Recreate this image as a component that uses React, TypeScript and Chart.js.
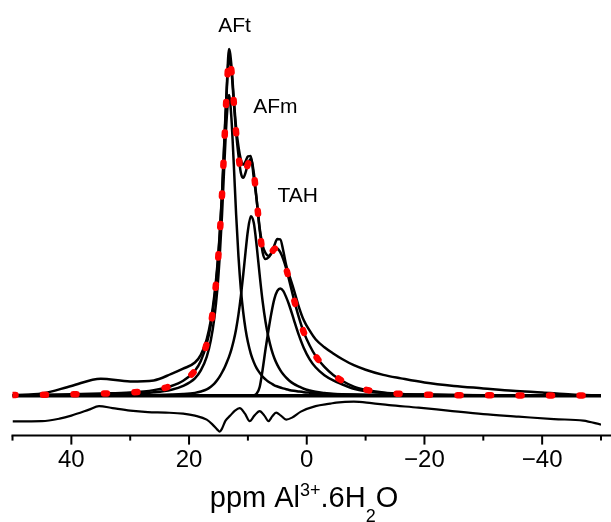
import React, { useEffect, useRef } from "react";
import { Chart, registerables } from "chart.js";

Chart.register(...registerables);

const FONT = '"Liberation Sans", Arial, Helvetica, sans-serif';

// chemical shift grid (ppm) for spectrum, fit and component peaks
const ppmGrid = [50, 45, 40, 35, 30, 26, 23, 21, 19, 18, 17, 16.3, 15.7, 15.2, 14.8, 14.4, 14, 13.6, 13.2, 12.8, 12.4, 12, 11.6, 11.2, 10.8, 10.4, 10, 9.5, 9, 8.5, 8, 7.5, 7, 6.5, 6, 5.5, 5, 4.5, 4, 3.5, 3, 2.2, 1.4, 0.5, -0.5, -1.5, -3, -4.5, -6, -8, -10, -13, -16, -20, -25, -30, -35, -40, -45, -50];

const experimental = [0.1, 0.6, 2.8, 4.9, 4.1, 4.4, 6.3, 7.8, 9.6, 11.8, 16.3, 21.8, 29, 37.5, 46.5, 58.5, 74, 89, 100.3, 95.5, 86, 77.5, 72, 68.3, 66.8, 67.8, 69.2, 69.3, 63, 56.5, 48.5, 43.5, 41.2, 40.4, 41.2, 43.5, 45.3, 45.2, 42, 37.8, 35, 30.7, 26, 21.8, 18.8, 16.3, 14, 12.2, 10.6, 8.8, 7.5, 6.0, 5.0, 3.8, 2.8, 2.1, 1.4, 0.9, 0.35, 0.05];

const fitTotal = [0.15, 0.25, 0.4, 0.6, 0.9, 1.6, 2.8, 4.3, 7.2, 10.0, 15.0, 20.5, 28, 36.5, 46, 58, 73, 88, 98, 94, 85, 76, 69.5, 64.5, 63, 64.5, 67, 68.5, 64.5, 56.5, 48, 41.5, 39.5, 40, 41.2, 42.5, 42.6, 41.5, 39.5, 36.8, 33.5, 28, 23, 18.3, 14.5, 11.5, 8.3, 6.0, 4.3, 2.6, 1.7, 0.9, 0.5, 0.3, 0.15, 0.1, 0.05, 0.03, 0.02, 0];

const peakAFt = [0.05, 0.08, 0.14, 0.25, 0.5, 0.95, 1.7, 2.8, 5.0, 7.3, 11.2, 16.0, 22.5, 30.6, 40.0, 52.2, 67.0, 80.3, 87, 80.3, 67.0, 52.4, 40.2, 30.9, 24.2, 19.2, 15.5, 12.1, 9.7, 7.9, 6.6, 5.5, 4.7, 4.0, 3.5, 3.0, 2.65, 2.35, 2.1, 1.85, 1.65, 1.4, 1.2, 1.0, 0.85, 0.72, 0.57, 0.46, 0.38, 0.3, 0.24, 0.18, 0.13, 0.09, 0.06, 0.04, 0.03, 0.02, 0.01, 0];

const peakAFm = [0.02, 0.03, 0.05, 0.08, 0.12, 0.2, 0.3, 0.45, 0.8, 1.2, 1.8, 2.6, 3.5, 4.5, 5.5, 6.7, 8.0, 9.6, 11.3, 13.4, 16.0, 19.3, 23.5, 28.7, 34.9, 41.6, 47.7, 51.9, 50.0, 43.2, 34.9, 27.3, 21.3, 16.8, 13.4, 10.8, 8.9, 7.4, 6.2, 5.2, 4.4, 3.4, 2.7, 2.0, 1.5, 1.1, 0.75, 0.5, 0.35, 0.25, 0.18, 0.12, 0.08, 0.05, 0.03, 0.02, 0.01, 0.01, 0, 0];

const peakTAH = [0, 0, 0, 0, 0, 0, 0, 0, 0, 0, 0, 0, 0, 0, 0, 0, 0, 0, 0, 0, 0, 0, 0, 0, 0, 0, 0, 0, 0.1, 0.6, 2.5, 7.5, 13.5, 19, 24, 28, 30.3, 31, 30.3, 28.5, 26.3, 22, 17.8, 13.8, 10.5, 8.2, 5.9, 4.4, 3.3, 2.0, 1.3, 0.8, 0.5, 0.3, 0.18, 0.1, 0.06, 0.04, 0.02, 0];

// residual (experimental - fit), plotted with its offset below the baseline
const residualPpm = [50, 45, 42, 40, 37, 35.3, 33, 30, 27, 24, 21, 19, 17, 16, 15.2, 14.8, 14.4, 13.8, 13, 12.2, 11.4, 10.5, 9.7, 8.9, 8, 7.2, 6.5, 5.9, 5.2, 4.4, 3.5, 2.5, 1, -1.5, -4, -5, -8, -11, -14, -19, -24, -30, -36, -42, -47, -50];
const residualValues = [-7.43, -7.37, -6.65, -5.78, -4.05, -3.03, -3.61, -4.34, -4.77, -4.91, -5.2, -5.78, -6.94, -8.38, -9.83, -10.4, -9.54, -7.23, -5.78, -4.34, -3.61, -5.2, -7.37, -5.78, -4.48, -5.78, -7.37, -6.07, -4.91, -5.78, -6.94, -6.36, -4.62, -3.03, -2.31, -2.02, -1.73, -2.17, -2.75, -3.47, -4.34, -5.35, -6.07, -6.79, -7.23, -8.38];

const baselinePpm = [50, -50];
const baselineValues = [0, 0];

const majorTickLabels = [40, 20, 0, -20, -40];

const peakLabels = ["AFt", "AFm", "TAH"];
const peakLabelPpm = [12.28, 5.33, 1.54];
const peakLabelIntensity = [105.1, 81.9, 55.9];

const titleParts = [
  { text: "ppm Al", kind: "normal" },
  { text: "3+", kind: "sup" },
  { text: ".6H", kind: "normal" },
  { text: "2", kind: "sub" },
  { text: "O", kind: "normal" },
];

function pts(xs: number[], ys: number[]) {
  return xs.map((x, i) => ({ x, y: ys[i] }));
}

const fmt = (v: number) => (v < 0 ? "\u2212" + Math.abs(v) : String(v));

const decorPlugin = {
  id: "decor",
  afterDraw(chart: any) {
    const { ctx, chartArea, scales } = chart;
    const xs = scales.x;
    const ys = scales.y;
    ctx.save();
    ctx.strokeStyle = "#000";
    ctx.lineWidth = 2;
    const yAxis = chartArea.bottom;
    ctx.beginPath();
    ctx.moveTo(chartArea.left - 1, yAxis);
    ctx.lineTo(chart.width, yAxis);
    ctx.stroke();
    xs.ticks.forEach((t: any) => {
      const px = xs.getPixelForValue(t.value);
      const major = majorTickLabels.includes(t.value);
      ctx.beginPath();
      ctx.moveTo(px, yAxis);
      ctx.lineTo(px, yAxis + (major ? 9 : 5));
      ctx.stroke();
    });

    ctx.fillStyle = "#000";
    ctx.font = `21px ${FONT}`;
    ctx.textAlign = "center";
    ctx.textBaseline = "alphabetic";
    peakLabels.forEach((s, i) => {
      ctx.fillText(s, xs.getPixelForValue(peakLabelPpm[i]), ys.getPixelForValue(peakLabelIntensity[i]));
    });

    // axis title with super/subscripts
    const mainSize = 29;
    const scriptSize = 18;
    const parts = titleParts.map((p) => {
      const size = p.kind === "normal" ? mainSize : scriptSize;
      ctx.font = `${size}px ${FONT}`;
      return { ...p, size, w: ctx.measureText(p.text).width };
    });
    const total = parts.reduce((a, p) => a + p.w, 0);
    let x = 304 - total / 2;
    const base = 507;
    ctx.textAlign = "left";
    parts.forEach((p) => {
      ctx.font = `${p.size}px ${FONT}`;
      const dy = p.kind === "sup" ? -11 : p.kind === "sub" ? 15 : 0;
      ctx.fillText(p.text, x, base + dy);
      x += p.w;
    });
    ctx.restore();
  },
};

export default function App() {
  const ref = useRef<HTMLCanvasElement | null>(null);
  useEffect(() => {
    if (!ref.current) return;
    const line = (data: any, extra: any = {}) => ({
      data,
      borderColor: "#000",
      borderWidth: 2.5,
      pointRadius: 0,
      fill: false,
      cubicInterpolationMode: "monotone",
      ...extra,
    });
    const chart = new Chart(ref.current, {
      type: "line",
      data: {
        datasets: [
          line(pts(ppmGrid, fitTotal), {
            label: "fit (dots)",
            borderColor: "#ff0000",
            borderWidth: 6.5,
            borderDash: [3, 27.5],
            borderCapStyle: "round",
            order: 0,
          }),
          line(pts(ppmGrid, experimental), { label: "experimental", order: 1 }),
          line(pts(ppmGrid, fitTotal), { label: "fit", order: 2 }),
          line(pts(ppmGrid, peakAFt), { label: "AFt", order: 3 }),
          line(pts(ppmGrid, peakAFm), { label: "AFm", order: 4 }),
          line(pts(ppmGrid, peakTAH), { label: "TAH", order: 5 }),
          line(pts(baselinePpm, baselineValues), { label: "baseline", borderWidth: 3.5, order: 6 }),
          line(pts(residualPpm, residualValues), { label: "residual", borderWidth: 2.2, order: 7 }),
        ],
      },
      options: {
        animation: false,
        responsive: false,
        events: [],
        layout: { padding: { left: 12.5, right: 1.5, top: 10, bottom: 37.6 } },
        plugins: { legend: { display: false }, tooltip: { enabled: false } },
        scales: {
          x: {
            type: "linear",
            min: -50,
            max: 50,
            reverse: true,
            grid: { display: false, drawTicks: false },
            border: { display: false },
            ticks: {
              stepSize: 10,
              autoSkip: false,
              maxRotation: 0,
              padding: 10,
              color: "#000",
              font: { family: FONT, size: 24 },
              callback: (v: any) => (majorTickLabels.includes(Number(v)) ? fmt(Number(v)) : ""),
            },
          },
          y: { display: false, min: -11.56, max: 111.56 },
        },
      },
      plugins: [decorPlugin],
    } as any);
    return () => chart.destroy();
  }, []);
  return (
    <div>
      <canvas
        ref={ref}
        width={611}
        height={522}
        style={{ display: "block", position: "fixed", left: 0, top: 0, width: 611, height: 522 }}
      />
    </div>
  );
}
